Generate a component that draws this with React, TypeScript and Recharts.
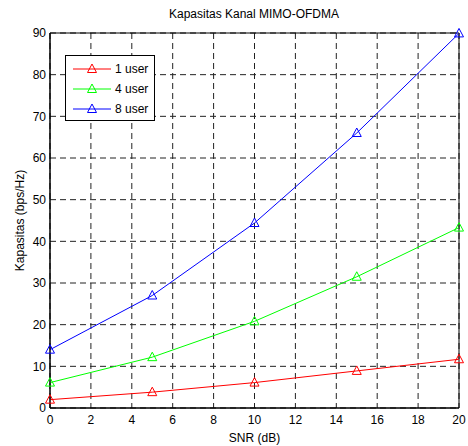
import React from "react";
import {
  LineChart,
  Line,
  XAxis,
  YAxis,
  CartesianGrid,
  ReferenceArea,
} from "recharts";

const snr = [0, 5, 10, 15, 20];
const user1 = [2.0, 3.8, 6.1, 8.9, 11.7];
const user4 = [6.1, 12.2, 20.8, 31.5, 43.3];
const user8 = [14.0, 27.0, 44.4, 66.0, 89.9];
const xTicks = [0, 2, 4, 6, 8, 10, 12, 14, 16, 18, 20];
const yTicks = [0, 10, 20, 30, 40, 50, 60, 70, 80, 90];

const seriesDefs = [
  { key: "u1", name: "1 user", values: user1, color: "#ff0000" },
  { key: "u4", name: "4 user", values: user4, color: "#00ff00" },
  { key: "u8", name: "8 user", values: user8, color: "#0000ff" },
];

const data = snr.map((s, i) => {
  const row: Record<string, number> = { snr: s };
  seriesDefs.forEach((d) => {
    row[d.key] = d.values[i];
  });
  return row;
});

const FONT = "'Liberation Sans', Arial, sans-serif";

const makeTriangle = (color: string) => (props: any) => {
  const { cx, cy, index } = props;
  if (cx == null || cy == null) return <g key={index} />;
  const pts = `${cx},${cy - 5} ${cx - 4.5},${cy + 3.5} ${cx + 4.5},${cy + 3.5}`;
  return (
    <polygon
      key={index}
      points={pts}
      fill="none"
      stroke={color}
      strokeWidth={1}
    />
  );
};

export default function App() {
  return (
    <div
      style={{
        position: "fixed",
        left: 0,
        top: 0,
        width: 468,
        height: 446,
        background: "#fff",
        fontFamily: FONT,
      }}
    >
      <LineChart
        width={468}
        height={446}
        data={data}
        margin={{ top: 33, right: 9, bottom: 8, left: 0 }}
      >
        <CartesianGrid
          stroke="#222"
          strokeDasharray="6 4"
          strokeWidth={1}
          horizontalValues={yTicks}
          verticalValues={xTicks}
        />
        <XAxis
          dataKey="snr"
          type="number"
          domain={[0, 20]}
          ticks={xTicks}
          height={30}
          tickSize={0}
          tickMargin={7}
          axisLine={{ stroke: "#000", strokeWidth: 1 }}
          tick={{ fill: "#000", fontSize: 12, fontFamily: FONT }}
          interval={0}
          label={{
            value: "SNR (dB)",
            position: "bottom",
            offset: -5,
            fill: "#000",
            fontSize: 12,
            fontFamily: FONT,
          }}
        />
        <YAxis
          type="number"
          domain={[0, 90]}
          ticks={yTicks}
          width={50}
          tickSize={0}
          tickMargin={4}
          axisLine={{ stroke: "#000", strokeWidth: 1 }}
          tick={{ fill: "#000", fontSize: 12, fontFamily: FONT }}
          interval={0}
          label={{
            value: "Kapasitas (bps/Hz)",
            angle: -90,
            position: "insideLeft",
            offset: 20,
            style: { textAnchor: "middle" },
            fill: "#000",
            fontSize: 12,
            fontFamily: FONT,
          }}
        />
        <ReferenceArea
          x1={0}
          x2={20}
          y1={0}
          y2={90}
          fill="none"
          fillOpacity={0}
          stroke="#000"
          strokeWidth={1}
          ifOverflow="visible"
        />
        {seriesDefs.map((d) => (
          <Line
            key={d.key}
            dataKey={d.key}
            name={d.name}
            type="linear"
            stroke={d.color}
            strokeWidth={1}
            dot={makeTriangle(d.color)}
            activeDot={false}
            isAnimationActive={false}
          />
        ))}
      </LineChart>
      <div
        style={{
          position: "absolute",
          left: 254,
          top: 7,
          transform: "translateX(-50%)",
          fontSize: 12,
          whiteSpace: "nowrap",
          color: "#000",
        }}
      >
        Kapasitas Kanal MIMO-OFDMA
      </div>
      <svg
        width={91}
        height={67}
        style={{ position: "absolute", left: 65, top: 55 }}
      >
        <rect x={0.5} y={0.5} width={89} height={65} fill="#fff" stroke="#000" strokeWidth={1} />
        {seriesDefs.map((d, i) => {
          const y = 14 + i * 20;
          return (
            <g key={d.key}>
              <line x1={8} x2={46} y1={y} y2={y} stroke={d.color} strokeWidth={1} />
              <polygon
                points={`27,${y - 5} 22.5,${y + 3.5} 31.5,${y + 3.5}`}
                fill="none"
                stroke={d.color}
              />
              <text
                x={50}
                y={y + 4}
                fontSize={12}
                fontFamily={FONT}
                fill="#000"
              >
                {d.name}
              </text>
            </g>
          );
        })}
      </svg>
    </div>
  );
}
